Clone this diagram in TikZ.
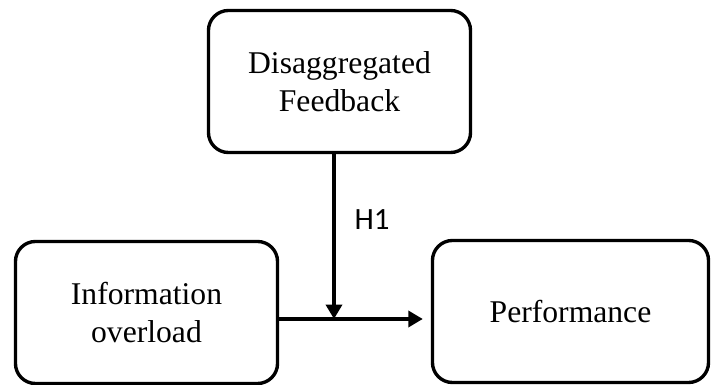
\documentclass[tikz,border=0pt]{standalone}
\usepackage{fontspec}
\setmainfont{Liberation Serif}
\newfontfamily\hfont{Carlito}
\usetikzlibrary{calc,arrows.meta}

\begin{document}
\begin{tikzpicture}[x=0.025cm,y=-0.025cm,line join=round,
    varbox/.style={draw, line width=2.4pt, rounded corners=0.5cm, align=center,
      minimum height=3.55cm, font=\fontsize{22.5}{27}\selectfont, inner sep=0pt},
    link/.style={line width=2.4pt, -{Triangle[length=0.36cm,width=0.4cm]}}]

  \useasboundingbox (0,0) rectangle (718,385);

  % 1. the three variables
  \node[varbox, minimum width=6.55cm] (feedback) at (339.5,81.5) {Disaggregated\\Feedback};
  \node[varbox, minimum width=6.55cm] (overload) at (146.5,312.5) {Information\\overload};
  \node[varbox, minimum width=6.9cm] (perf) at (570.5,311.5) {Performance};

  % 2. main path and moderating effect
  \coordinate (join) at (334,319);
  \draw[link, shorten >=0.2cm] (overload.east |- join) -- (perf.west |- join);
  \draw[link] (feedback.south -| join) -- (join);
  \node[font=\hfont\fontsize{22}{24}\selectfont] (h1) at (372,220) {H1};

\end{tikzpicture}
\end{document}
